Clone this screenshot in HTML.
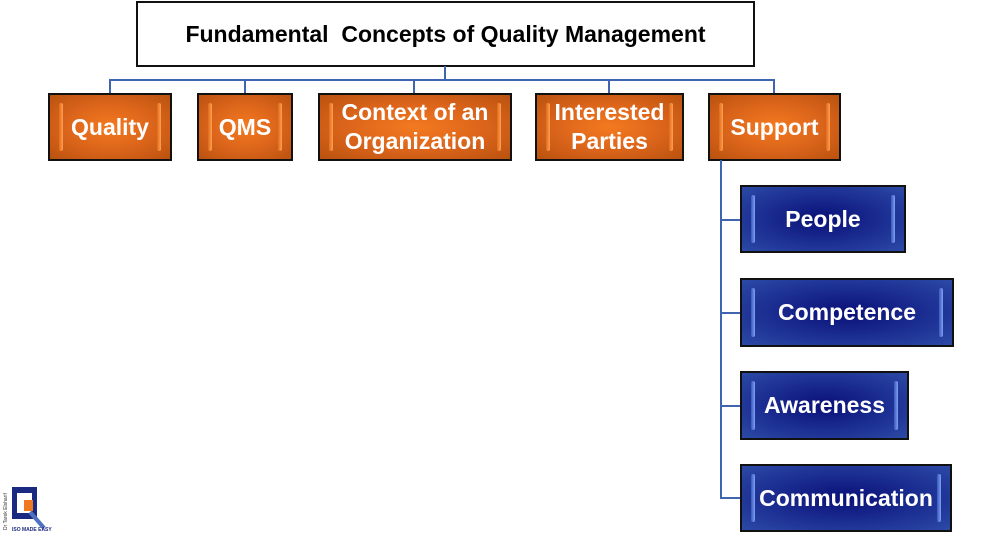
<!DOCTYPE html>
<html><head><meta charset="utf-8"><style>
body{margin:0;width:1002px;height:535px;background:#fff;position:relative;overflow:hidden;font-family:"Liberation Sans",sans-serif}
.b{position:absolute;box-sizing:border-box;border:2px solid #111;display:flex;align-items:center;justify-content:center;text-align:center;color:#fff;font-weight:bold;font-size:23px;line-height:29px;white-space:nowrap}
.o{background:radial-gradient(ellipse at center,#f47a20 0%,#d9631a 55%,#b9520f 100%)}
.u{background:radial-gradient(ellipse at center,#0a1078 0%,#1c2f92 55%,#2c4aa6 100%)}
.b::before,.b::after{content:"";position:absolute;top:8px;bottom:8px;width:4px;border-radius:2px}
.o::before,.o::after{background:linear-gradient(90deg,#e06a1c,#ffa050)}
.u::before,.u::after{background:linear-gradient(90deg,#3858c0,#7fa0f0)}
.b::before{left:9px}.b::after{right:9px}
.l{position:absolute;background:#3f64b0}
</style></head><body>
<div class="b" style="left:136px;top:1px;width:619px;height:66px;background:#fff;color:#000;font-size:23px">Fundamental&nbsp; Concepts of Quality Management</div>
<div class="l" style="left:444px;top:66px;width:2px;height:14px"></div>
<div class="l" style="left:109px;top:79px;width:666px;height:2px"></div>
<div class="l" style="left:109px;top:79px;width:2px;height:14px"></div>
<div class="l" style="left:244px;top:79px;width:2px;height:14px"></div>
<div class="l" style="left:413px;top:79px;width:2px;height:14px"></div>
<div class="l" style="left:608px;top:79px;width:2px;height:14px"></div>
<div class="l" style="left:773px;top:79px;width:2px;height:14px"></div>
<div class="b o" style="left:48px;top:93px;width:124px;height:68px">Quality</div>
<div class="b o" style="left:197px;top:93px;width:96px;height:68px">QMS</div>
<div class="b o" style="left:318px;top:93px;width:194px;height:68px">Context of an<br>Organization</div>
<div class="b o" style="left:535px;top:93px;width:149px;height:68px">Interested<br>Parties</div>
<div class="b o" style="left:708px;top:93px;width:133px;height:68px">Support</div>
<div class="l" style="left:720px;top:160px;width:2px;height:339px"></div>
<div class="l" style="left:720px;top:219px;width:21px;height:2px"></div>
<div class="l" style="left:720px;top:312px;width:21px;height:2px"></div>
<div class="l" style="left:720px;top:405px;width:21px;height:2px"></div>
<div class="l" style="left:720px;top:497px;width:21px;height:2px"></div>
<div class="b u" style="left:740px;top:185px;width:166px;height:68px">People</div>
<div class="b u" style="left:740px;top:278px;width:214px;height:69px">Competence</div>
<div class="b u" style="left:740px;top:371px;width:169px;height:69px">Awareness</div>
<div class="b u" style="left:740px;top:464px;width:212px;height:68px">Communication</div>
<svg style="position:absolute;left:0;top:480px" width="62" height="55">
<text x="7" y="50" font-size="5" fill="#333" transform="rotate(-90 7 50)" font-family="Liberation Sans">Dr Tarek Elsharif</text>
<rect x="12" y="7" width="25" height="32" fill="#1a2a80"/>
<rect x="17" y="13" width="15" height="20" fill="#fff"/>
<rect x="24" y="20" width="9" height="11" fill="#f07820"/>
<line x1="30" y1="32" x2="44" y2="48" stroke="#5070c0" stroke-width="4"/>
<text x="12" y="51" font-size="5" font-weight="bold" fill="#1a2a80" font-family="Liberation Sans">ISO MADE EASY</text>
</svg>
</body></html>
